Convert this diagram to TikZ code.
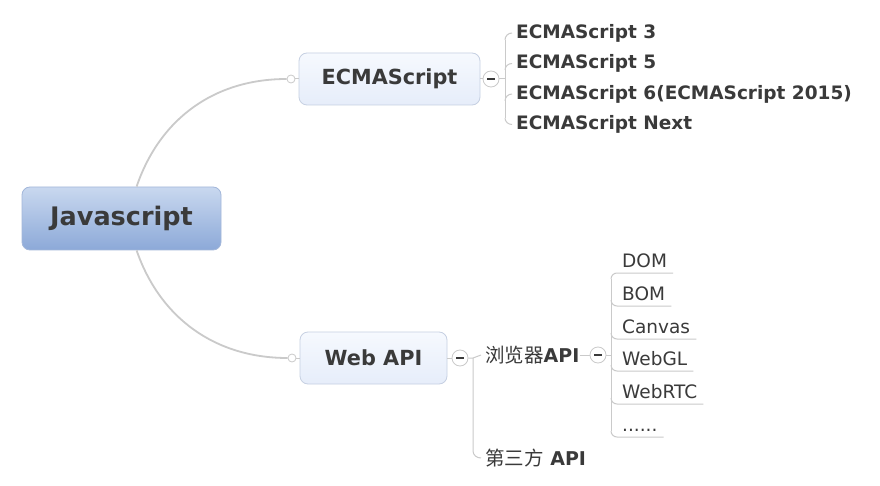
\documentclass[tikz,border=0pt]{standalone}
\usepackage{fontspec}
\setmainfont{DejaVu Sans}
\newfontfamily\cjk{Noto Sans CJK SC}
\definecolor{txt}{HTML}{3A3A3A}
\definecolor{ln}{HTML}{CACACA}
\definecolor{jstop}{HTML}{C9D8EF}
\definecolor{jsbot}{HTML}{8CA9D8}
\definecolor{jsborder}{HTML}{A3B7DA}
\definecolor{tptop}{HTML}{F6F9FE}
\definecolor{tpbot}{HTML}{E6EDFA}
\definecolor{tpborder}{HTML}{C6D0E2}
\tikzset{
  mainbox/.style={draw=jsborder, line width=0.8pt, rounded corners=8pt, top color=jstop, bottom color=jsbot,
    minimum width=199pt, minimum height=63pt, inner sep=0pt, font=\bfseries\fontsize{25.5}{28}\selectfont, text=txt},
  topicbox/.style={draw=tpborder, line width=0.8pt, rounded corners=8pt, top color=tptop, bottom color=tpbot,
    minimum height=52pt, inner sep=0pt, font=\bfseries\fontsize{20.8}{24}\selectfont, text=txt},
  conn/.style={draw=ln, line width=1.8pt},
  br/.style={draw=ln, line width=1pt},
  dot/.style={circle, draw=ln, fill=white, minimum size=8pt, inner sep=0pt, line width=0.8pt},
  fold/.style={circle, draw=ln, fill=white, minimum size=16pt, inner sep=0pt, line width=0.8pt,
    path picture={\draw[txt, line width=1.5pt] ([xshift=-4pt]path picture bounding box.center) -- ([xshift=4pt]path picture bounding box.center);}},
  leafb/.style={anchor=west, inner sep=0pt, font=\bfseries\fontsize{18.5}{22}\selectfont, text=txt},
  leaf/.style={anchor=base west, inner sep=0pt, font=\fontsize{18.5}{21}\selectfont, text=txt},
  sub/.style={anchor=west, inner sep=0pt, font=\bfseries\fontsize{19}{22}\selectfont, text=txt},
}
\newcommand{\cjkt}[1]{{\cjk\mdseries\fontsize{19.5}{22}\selectfont #1}}
\begin{document}
\begin{tikzpicture}[x=1pt,y=-1pt]
\useasboundingbox[fill=white] (0,0) rectangle (880,486);

% central topic
\node[mainbox] (js) at (121.5,218.5) {Javascript};

% main topics
\node[topicbox, minimum width=181pt] (ecma) at (389.5,79) {ECMAScript};
\node[topicbox, minimum width=147pt] (wapi) at (373.5,358) {Web API};

\node[dot] (d1) at (291,79) {};
\node[dot] (d2) at (292,358) {};

\draw[conn] ([xshift=115pt]js.north west) .. controls (160,118) and (215,79) .. (d1.west);
\draw[conn] ([xshift=115pt]js.south west) .. controls (160,318) and (215,358) .. (d2.west);
\draw[br] (d1.east) -- (ecma.west);
\draw[br] (d2.east) -- (wapi.west);

% ECMAScript branch
\node[fold] (f1) at (491,79) {};
\draw[br] (ecma.east) -- (f1.west);
\node[leafb] (e3) at (516,33) {ECMAScript 3};
\node[leafb] (e5) at (516,63.5) {ECMAScript 5};
\node[leafb] (e6) at (516,94) {ECMAScript 6(ECMAScript 2015)};
\node[leafb] (en) at (516,124.5) {ECMAScript Next};
\coordinate (eb) at (505,79);
\draw[br] (f1.east) -- (eb);
\draw[br] (505,40) -- (505,118);
\draw[br] (505,40) to[out=90,in=180] ([xshift=-4pt]e3.west);
\draw[br] (505,70) to[out=90,in=180] ([xshift=-4pt]e5.west);
\draw[br] (505,101) to[out=90,in=180] ([xshift=-4pt]e6.west);
\draw[br] (505,118) to[out=-90,in=180] ([xshift=-4pt]en.west);

% Web API branch
\node[fold] (f2) at (460,358) {};
\draw[br] (wapi.east) -- (f2.west);
\node[sub] (bapi) at (485,355) {\cjkt{浏览器}API};
\node[sub] (tapi) at (485,458) {\cjkt{第三方} API};
\draw[br] (f2.east) -- (473,358) to[out=0,in=180] ([xshift=-4pt]bapi.west);
\draw[br] (473,358) -- (473,451) to[out=-90,in=180] ([xshift=-4pt]tapi.west);

% browser API list
\node[fold] (f3) at (598,355) {};
\draw[br] (bapi.east) -- (f3.west);
\coordinate (lb) at (611,355);
\draw[br] (f3.east) -- (lb);
\node[leaf] (dom) at (622,267) {DOM};
\node[leaf] (bom) at (622,300) {BOM};
\node[leaf] (canvas) at (622,333) {Canvas};
\node[leaf] (webgl) at (622,365) {WebGL};
\node[leaf] (webrtc) at (622,398) {WebRTC};
\node[leaf] (more) at (622,431) {......};
\draw[br] (611,279) -- (611,431);
\draw[br] (611,279) to[out=90,in=180] (617,273) -- ([xshift=6pt,yshift=-6pt]dom.base east);
\draw[br] (611,300) to[out=-90,in=180] (617,306) -- ([xshift=6pt,yshift=-6pt]bom.base east);
\draw[br] (611,333) to[out=-90,in=180] (617,339) -- ([xshift=6pt,yshift=-6pt]canvas.base east);
\draw[br] (611,365) to[out=-90,in=180] (617,371) -- ([xshift=6pt,yshift=-6pt]webgl.base east);
\draw[br] (611,398) to[out=-90,in=180] (617,404) -- ([xshift=6pt,yshift=-6pt]webrtc.base east);
\draw[br] (611,431) to[out=-90,in=180] (617,437) -- ([xshift=6pt,yshift=-6pt]more.base east);
\end{tikzpicture}
\end{document}
